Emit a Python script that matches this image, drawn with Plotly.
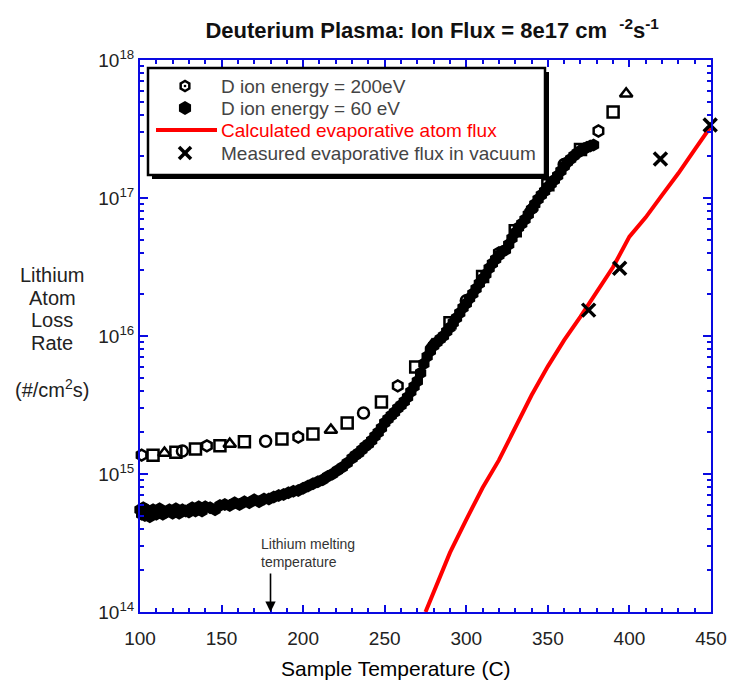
import math
import plotly.graph_objects as go

# ---------------- data ----------------
t_200ev = [101, 108, 115, 122, 126, 134, 141, 149, 155, 164, 177, 187, 197, 206, 217,
           227, 237, 248, 258, 269, 279, 290, 300, 310, 320, 330, 340, 350, 360, 370,
           381, 390, 398]
flux_200ev = [1.37e15, 1.37e15, 1.42e15, 1.44e15, 1.47e15, 1.52e15, 1.60e15, 1.60e15,
              1.65e15, 1.71e15, 1.73e15, 1.79e15, 1.85e15, 1.95e15, 2.08e15, 2.34e15,
              2.77e15, 3.33e15, 4.35e15, 5.96e15, 8.6e15, 1.25e16, 1.8e16, 2.7e16,
              4.0e16, 5.8e16, 8.5e16, 1.25e17, 1.75e17, 2.25e17, 3.06e17, 4.2e17, 5.7e17]

t_60ev = [100, 101, 102, 103, 104, 105, 106, 108, 110, 112, 114, 116, 118, 120, 122, 124,
          126, 128, 130, 132, 134, 136, 138, 140, 143, 146, 149, 152, 155, 158, 161, 164,
          167, 170, 173, 176, 179, 182, 185, 188, 191, 194, 197, 200, 203, 206, 209, 212,
          215, 218, 221, 224, 227, 230, 232, 234, 236, 238, 240, 242, 244, 246, 248, 250,
          252, 254, 256, 258, 260, 262, 264, 266, 268, 270, 272, 274, 276, 278, 280, 282,
          284, 286, 288, 290, 292, 294, 296, 298, 300, 302, 304, 306, 308, 310, 312, 314,
          316, 318, 320, 322, 324, 326, 328, 330, 332, 334, 336, 338, 340, 342, 344, 346,
          348, 350, 352, 354, 356, 358, 360, 362, 364, 366, 368, 370, 372, 374, 376, 378]
flux_60ev = [5.5e14, 5.1e14, 5.7e14, 5.0e14, 5.5e14, 5.3e14, 4.9e14, 5.5e14, 5.1e14, 5.6e14,
             5.1e14, 5.3e14, 5.5e14, 5.2e14, 5.6e14, 5.2e14, 5.5e14, 5.4e14, 5.3e14, 5.7e14,
             5.4e14, 5.8e14, 5.4e14, 5.8e14, 5.7e14, 5.5e14, 5.9e14, 6.0e14, 5.9e14, 6.2e14,
             6.0e14, 6.3e14, 6.2e14, 6.5e14, 6.3e14, 6.6e14, 6.6e14, 6.8e14, 7.0e14, 7.1e14,
             7.3e14, 7.5e14, 7.6e14, 7.9e14, 8.2e14, 8.5e14, 8.8e14, 9.1e14, 9.6e14, 1.0e15,
             1.06e15, 1.12e15, 1.2e15, 1.3e15, 1.37e15, 1.42e15, 1.5e15, 1.58e15, 1.65e15,
             1.75e15, 1.88e15, 2.0e15, 2.15e15, 2.35e15, 2.5e15, 2.65e15, 2.8e15, 3.0e15,
             3.15e15, 3.35e15, 3.6e15, 3.95e15, 4.3e15, 4.7e15, 5.4e15, 6.3e15, 7.1e15,
             7.8e15, 8.5e15, 9.0e15, 9.5e15, 1.0e16, 1.08e16, 1.15e16, 1.25e16, 1.35e16,
             1.47e16, 1.6e16, 1.72e16, 1.88e16, 2.02e16, 2.2e16, 2.4e16, 2.6e16, 2.8e16,
             3.1e16, 3.35e16, 3.6e16, 3.85e16, 4.1e16, 4.2e16, 4.6e16, 5.1e16, 5.6e16,
             6.1e16, 6.5e16, 7.0e16, 7.6e16, 8.3e16, 9.0e16, 9.8e16, 1.05e17, 1.12e17,
             1.2e17, 1.27e17, 1.35e17, 1.45e17, 1.57e17, 1.7e17, 1.82e17, 1.92e17, 2.02e17,
             2.12e17, 2.2e17, 2.27e17, 2.33e17, 2.38e17, 2.42e17]

t_calc = [275, 280, 290, 300, 310, 320, 330, 340, 350, 360, 370, 380, 390, 400, 410, 420,
          430, 440, 450]
flux_calc = [1.0e14, 1.41e14, 2.69e14, 4.68e14, 7.94e14, 1.26e15, 2.19e15, 3.72e15, 6.03e15,
             9.33e15, 1.38e16, 2.09e16, 3.16e16, 5.25e16, 7.24e16, 1.05e17, 1.51e17,
             2.24e17, 3.31e17]

t_meas = [375, 394, 419, 449.5]
flux_meas = [1.54e16, 3.1e16, 1.92e17, 3.38e17]

y_tick_vals = [1e14, 1e15, 1e16, 1e17, 1e18]
y_tick_text = ["10<sup>14</sup>", "10<sup>15</sup>", "10<sup>16</sup>",
               "10<sup>17</sup>", "10<sup>18</sup>"]
x_tick_vals = [100, 150, 200, 250, 300, 350, 400, 450]

y_title_lines = ["Lithium", "Atom", "Loss", "Rate", "(#/cm<sup>2</sup>s)"]

legend_labels = ["D ion energy = 200eV", "D ion energy = 60 eV",
                 "Calculated evaporative atom flux", "Measured evaporative flux in vacuum"]

# ---------------- style ----------------
FONT = "Liberation Sans, Arial, sans-serif"
AXIS_BLUE = "rgb(10,10,225)"
TXT = "#222222"
LEG_TXT = "#444444"

W, H = 730, 684
ML, MR, MT, MB = 140, 19, 60, 72
PW, PH = W - ML - MR, H - MT - MB


def px_to_paper_x(px):
    return (px - ML) / PW


def px_to_paper_y(py):
    return (H - MB - py) / PH


def poly_path(cx, cy, r, n, rot):
    pts = []
    for k in range(n):
        a = rot + 2 * math.pi * k / n
        pts.append((px_to_paper_x(cx + r * math.cos(a)), px_to_paper_y(cy + r * math.sin(a))))
    return "M" + "L".join(f"{x:.5f},{y:.5f}" for x, y in pts) + "Z"


open_symbols = ["hexagon-open", "square-open", "triangle-up-open", "square-open",
                "circle-open", "square-open"]
sym200 = [open_symbols[i % len(open_symbols)] for i in range(len(t_200ev))]

fig = go.Figure()
fig.add_trace(go.Scatter(
    x=t_200ev, y=flux_200ev, mode="markers", name=legend_labels[0],
    marker=dict(symbol=sym200, size=11, color="black", line=dict(width=2.5, color="black")),
    cliponaxis=False))
fig.add_trace(go.Scatter(
    x=t_60ev, y=flux_60ev, mode="markers", name=legend_labels[1],
    marker=dict(symbol="hexagon", size=13, color="black", line=dict(width=0)),
    cliponaxis=False))
fig.add_trace(go.Scatter(
    x=t_calc, y=flux_calc, mode="lines", name=legend_labels[2],
    line=dict(color="red", width=4)))
fig.add_trace(go.Scatter(
    x=t_meas, y=flux_meas, mode="markers", name=legend_labels[3],
    marker=dict(symbol="x-thin", size=13, color="black", line=dict(width=3.5, color="black")),
    cliponaxis=False))

# minor tick positions on the log axis
minor_y = [m * 10 ** e for e in range(14, 18) for m in range(2, 10)]

fig.update_layout(
    template="none",
    width=W, height=H,
    margin=dict(l=ML, r=MR, t=MT, b=MB, autoexpand=False),
    paper_bgcolor="white", plot_bgcolor="white",
    font=dict(family=FONT, size=18, color=TXT),
    title=dict(
        text="<b>Deuterium Plasma: Ion Flux = 8e17 cm  <sup>-2</sup>s<sup>-1</sup></b>",
        x=0.592, xanchor="center", y=0.955, yanchor="middle",
        font=dict(family=FONT, size=22, color="#111")),
    showlegend=False,
    xaxis=dict(
        range=[100, 450], tickmode="array", tickvals=x_tick_vals, automargin=False,
        showgrid=False, zeroline=False,
        showline=True, linecolor=AXIS_BLUE, linewidth=2, mirror="ticks",
        ticks="inside", tickcolor=AXIS_BLUE, ticklen=7, tickwidth=2,
        ticklabelstandoff=8,
        minor=dict(dtick=10, ticks="inside", ticklen=4, tickcolor=AXIS_BLUE, tickwidth=1.5),
        tickfont=dict(family=FONT, size=19, color=TXT)),
    yaxis=dict(
        type="log", range=[14, 18], tickmode="array", automargin=False,
        tickvals=y_tick_vals, ticktext=y_tick_text,
        showgrid=False, zeroline=False,
        showline=True, linecolor=AXIS_BLUE, linewidth=2, mirror="ticks",
        ticks="inside", tickcolor=AXIS_BLUE, ticklen=8, tickwidth=2,
        minor=dict(tickvals=minor_y, ticks="inside", ticklen=4, tickcolor=AXIS_BLUE,
                   tickwidth=1.5),
        tickfont=dict(family=FONT, size=19, color=TXT)),
)

# ---------------- legend box (drawn as layout decoration) ----------------
LX0, LX1, LY0, LY1 = 148, 545, 68, 175
fig.add_shape(type="rect", xref="paper", yref="paper", layer="above",
              x0=px_to_paper_x(LX0 + 4), x1=px_to_paper_x(LX1 + 4),
              y0=px_to_paper_y(LY0 + 4), y1=px_to_paper_y(LY1 + 4),
              line=dict(width=0), fillcolor="black")
fig.add_shape(type="rect", xref="paper", yref="paper", layer="above",
              x0=px_to_paper_x(LX0), x1=px_to_paper_x(LX1),
              y0=px_to_paper_y(LY0), y1=px_to_paper_y(LY1),
              line=dict(width=2.5, color="black"), fillcolor="white")

rows = [86, 108, 130, 153]
GX = 185
# open marker glyph
fig.add_shape(type="path", xref="paper", yref="paper", layer="above",
              path=poly_path(GX, rows[0], 5, 6, math.pi / 6),
              line=dict(width=2.5, color="black"), fillcolor="white")
fig.add_shape(type="circle", xref="paper", yref="paper", layer="above",
              x0=px_to_paper_x(GX - 1.3), x1=px_to_paper_x(GX + 1.3),
              y0=px_to_paper_y(rows[0] - 1.3), y1=px_to_paper_y(rows[0] + 1.3),
              line=dict(width=0), fillcolor="black")
# filled marker glyph
fig.add_shape(type="path", xref="paper", yref="paper", layer="above",
              path=poly_path(GX, rows[1], 7, 6, math.pi / 6),
              line=dict(width=0), fillcolor="black")
# red line glyph
fig.add_shape(type="line", xref="paper", yref="paper", layer="above",
              x0=px_to_paper_x(156), x1=px_to_paper_x(217),
              y0=px_to_paper_y(rows[2]), y1=px_to_paper_y(rows[2]),
              line=dict(width=4, color="red"))
# X glyph
for s in (1, -1):
    fig.add_shape(type="line", xref="paper", yref="paper", layer="above",
                  x0=px_to_paper_x(GX - 6), x1=px_to_paper_x(GX + 6),
                  y0=px_to_paper_y(rows[3] - 6 * s), y1=px_to_paper_y(rows[3] + 6 * s),
                  line=dict(width=3.5, color="black"))

for label, py, col in zip(legend_labels, rows, [LEG_TXT, LEG_TXT, "red", LEG_TXT]):
    fig.add_annotation(
        text=label, xref="paper", yref="paper",
        x=px_to_paper_x(219), y=px_to_paper_y(py), xanchor="left", yanchor="middle",
        showarrow=False, font=dict(family=FONT, size=19, color=col))

# x-axis title
fig.add_annotation(
    text="Sample Temperature (C)", xref="paper", yref="paper",
    x=px_to_paper_x(396), y=px_to_paper_y(668), xanchor="center", yanchor="middle",
    showarrow=False, font=dict(family=FONT, size=21, color="black"))

# y-axis title block (one annotation per line)
for line, py in zip(y_title_lines, [275, 298, 320, 343, 388]):
    fig.add_annotation(
        text=line, xref="paper", yref="paper",
        x=px_to_paper_x(52), y=px_to_paper_y(py), xanchor="center", yanchor="middle",
        showarrow=False, font=dict(family=FONT, size=20, color=TXT))

# melting temperature note and arrow
fig.add_annotation(
    text="Lithium melting<br>temperature", xref="x", yref="paper",
    x=180, y=px_to_paper_y(572), xanchor="left", yanchor="bottom", xshift=-12,
    showarrow=False, align="left", font=dict(family=FONT, size=14, color="#333"))
fig.add_annotation(
    text="", x=180, y=14, xref="x", yref="y", ax=0, ay=-40,
    showarrow=True, arrowhead=2, arrowsize=1.3, arrowwidth=1.6, arrowcolor="black")

fig.write_html("out.html")
